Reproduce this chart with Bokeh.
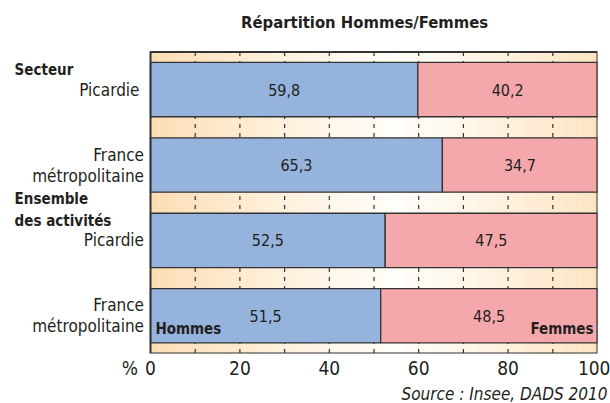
import numpy as np
from bokeh.plotting import figure
from bokeh.models import Range1d, FixedTicker, ColumnDataSource, Title
from bokeh.core.properties import value
from bokeh.embed import file_html
from bokeh.resources import INLINE

# ---- data ----
rows = ["Picardie", "France\nmétropolitaine", "Picardie", "France\nmétropolitaine"]
groups = ["Secteur", "Ensemble\ndes activités"]
group_pos = [-0.26, 1.6]
hommes = [59.8, 65.3, 52.5, 51.5]
femmes = [40.2, 34.7, 47.5, 48.5]
x_ticks = [-4.6, 0, 20, 40, 60, 80, 100]
x_tick_labels = {-4.6: "%"}
grid_ticks = [10, 20, 30, 40, 50, 60, 70, 80, 90]

FONT = "DejaVu Sans Condensed"
TXT = "#231f20"
BLUE = "#95b3dd"
PINK = "#f5a8ab"
EDGE = "#333333"

p = figure(width=610, height=403, output_backend="svg", toolbar_location=None,
           x_range=Range1d(-33.56, 100.0), y_range=Range1d(3.5, -1.182),
           min_border_left=0, min_border_right=13, min_border_top=0, min_border_bottom=46)
p.background_fill_color = None
p.border_fill_color = "white"
p.outline_line_color = None
p.grid.visible = False
p.yaxis.visible = False

# gradient background (peach at edges, white near the middle)
n = 100
xs = np.linspace(0, 100, n + 1)
edge_c = np.array([252, 220, 176])
mid_c = np.array([255, 253, 248])
cols = []
for a, b in zip(xs[:-1], xs[1:]):
    m = (a + b) / 2
    t = min(1.0, abs(m - 55) / 55) ** 1.2
    c = mid_c + (edge_c - mid_c) * t
    cols.append("#%02x%02x%02x" % tuple(int(round(v)) for v in c))
p.quad(left=xs[:-1], right=xs[1:], bottom=3.5, top=-0.5, fill_color=cols, line_color=None)

# dashed vertical grid
p.segment(x0=grid_ticks, x1=grid_ticks, y0=[-0.5] * len(grid_ticks), y1=[3.5] * len(grid_ticks),
          line_color=EDGE, line_width=1.2, line_dash="4 5")

ypos = list(range(len(rows)))
row_x = [-2.46, -1.45, -1.45, -1.45]
src = ColumnDataSource(dict(y=ypos, h=hommes, f=femmes, row=rows, rx=row_x,
                            htxt=[f"{v:.1f}".replace(".", ",") for v in hommes],
                            ftxt=[f"{v:.1f}".replace(".", ",") for v in femmes],
                            hx=[v / 2 for v in hommes],
                            fx=[h + f / 2 for h, f in zip(hommes, femmes)],
                            tot=[h + f for h, f in zip(hommes, femmes)]))
bh = 0.72
p.hbar(y="y", left=0, right="h", height=bh, source=src, fill_color=BLUE, line_color=EDGE, line_width=1.3)
p.hbar(y="y", left="h", right="tot", height=bh, source=src, fill_color=PINK, line_color=EDGE, line_width=1.3)

# plot area frame
p.quad(left=[0], right=[100], top=[-0.5], bottom=[3.5], fill_color=None, line_color=EDGE, line_width=2)

txt_kw = dict(text_font=value(FONT), text_color=TXT, text_baseline="middle")
p.text(x="hx", y="y", text="htxt", source=src, text_font_size="16px", text_align="center", **txt_kw)
p.text(x="fx", y="y", text="ftxt", source=src, text_font_size="16px", text_align="center", **txt_kw)

# row labels
p.text(x="rx", y="y", text="row", source=src, text_font_size="17px", text_align="right",
       text_line_height=1.05, **txt_kw)
# group labels
p.text(x=[-30.4] * len(groups), y=group_pos, text=groups, text_font_size="15px",
       text_font_style="bold", text_align="left", text_line_height=1.25, **txt_kw)
# title
p.text(x=[47.9], y=[-0.893], text=["Répartition Hommes/Femmes"], text_font_size="16.5px",
       text_font_style="bold", text_align="center", **txt_kw)
# legend-like labels inside last bar
p.text(x=[1.1], y=[3.17], text=["Hommes"], text_font_size="15px", text_font_style="bold",
       text_align="left", **txt_kw)
p.text(x=[99.1], y=[3.17], text=["Femmes"], text_font_size="15px", text_font_style="bold",
       text_align="right", **txt_kw)

# x axis
p.xaxis.ticker = FixedTicker(ticks=x_ticks)
p.xaxis.major_label_overrides = x_tick_labels
p.xaxis.major_tick_line_color = None
p.xaxis.major_tick_out = 0
p.xaxis.major_tick_in = 0
p.xaxis.minor_tick_line_color = None
p.xaxis.minor_tick_out = 0
p.xaxis.axis_line_color = None
p.xaxis.major_label_text_font = FONT
p.xaxis.major_label_text_font_size = "19px"
p.xaxis.major_label_text_color = TXT
p.xaxis.major_label_standoff = 3

p.add_layout(Title(text="Source : Insee, DADS 2010", align="right", text_font=FONT,
                   text_font_size="17px", text_font_style="italic", text_color=TXT,
                   offset=-10, standoff=0), "below")

open("out.html", "w").write(file_html(p, INLINE))
